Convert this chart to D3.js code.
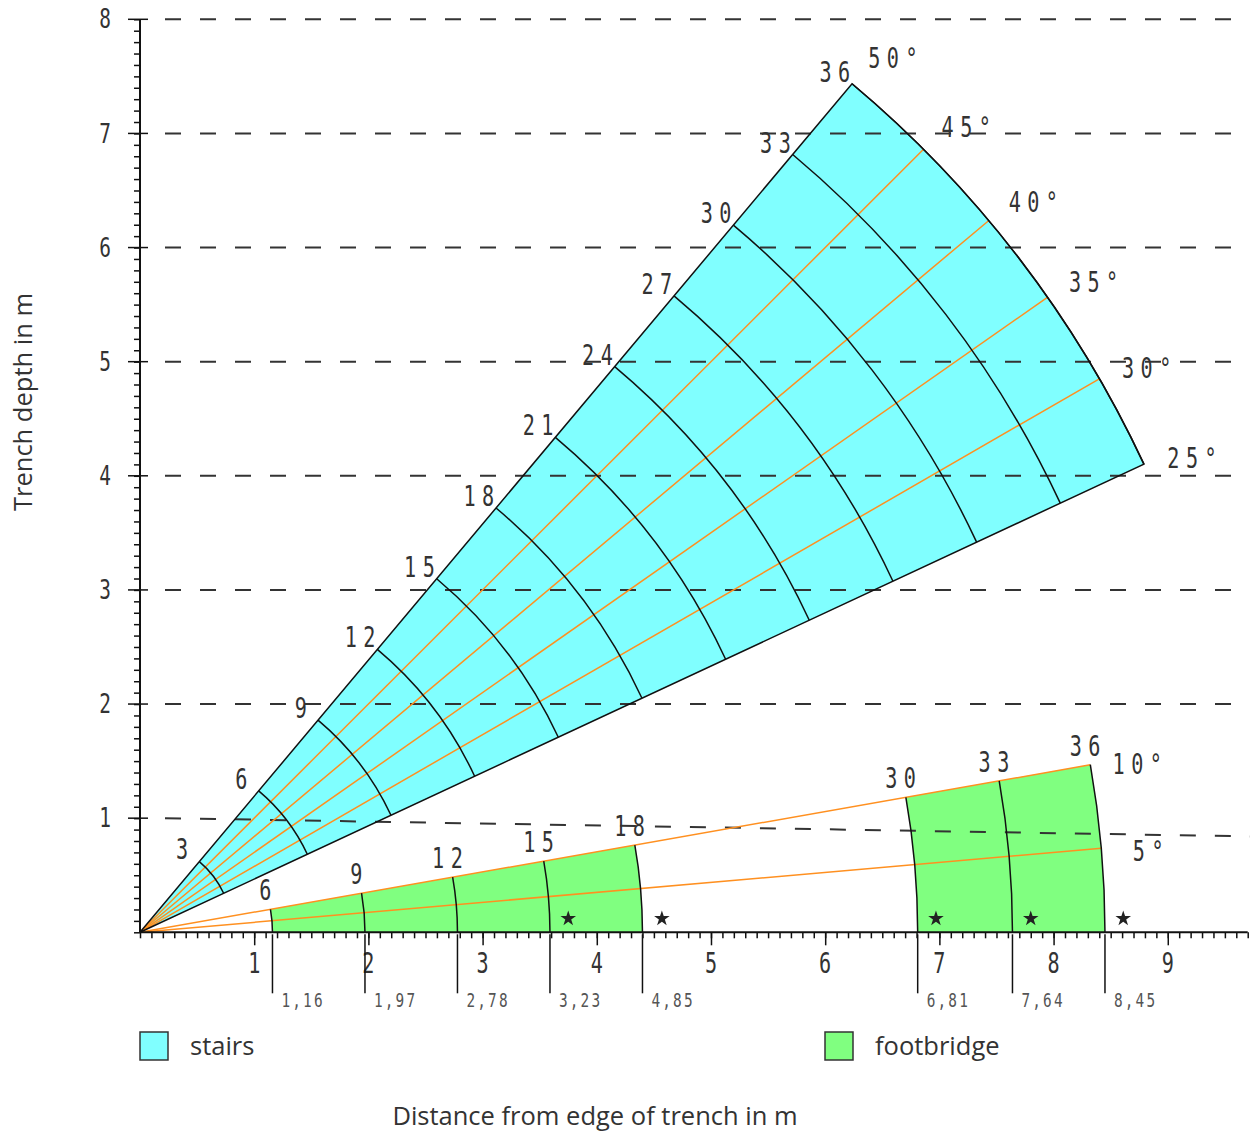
<!DOCTYPE html>
<html>
<head>
<meta charset="utf-8">
<script src="https://cdn.jsdelivr.net/npm/d3@7"></script>
<style>
  body { margin: 0; background: #fff; }
  .title { font-family: "Open Sans", sans-serif; font-size: 25.5px; fill: #333; }
</style>
</head>
<body>
<svg id="chart" width="1255" height="1133"></svg>
<script>
// stairs: fan of steps between 25 and 50 degrees
const stairSteps = [3, 6, 9, 12, 15, 18, 21, 24, 27, 30, 33, 36];
const stairMaxStep = 36;
const stairOuterRadius = 9.70;
const stairAngles = [25, 30, 35, 40, 45, 50];

// footbridge: fan between 0 and 10 degrees
const footSteps = [6, 9, 12, 15, 18, 30, 33, 36];
const footRadii = [1.16, 1.97, 2.78, 3.59, 4.40, 6.81, 7.64, 8.45];
const footLabels = ['1,16', '1,97', '2,78', '3,23', '4,85', '6,81', '7,64', '8,45'];
const footBlocks = [[1.16, 4.40], [6.81, 8.45]];
const footAngles = [5, 10];
const starRadii = [3.75, 4.57, 6.97, 7.80, 8.61];

const xTickLabels = [1, 2, 3, 4, 5, 6, 7, 8, 9];
const yTickLabels = [1, 2, 3, 4, 5, 6, 7, 8];
const gridStart = [1, 2, 3, 4, 5, 6, 7, 8];
const gridEnd = [0.84, 2, 3, 4, 5, 6, 7, 8];

const svg = d3.select('#chart');
const x = d3.scaleLinear().domain([0, 9.72]).range([140, 1250]);
const y = d3.scaleLinear().domain([0, 8]).range([932.3, 19.3]);
const px = r => x(r) - x(0);
const rad = d => d * Math.PI / 180;
const O = [x(0), y(0)];
function pt(r, deg) {
  return [x(r * Math.cos(rad(deg))), y(r * Math.sin(rad(deg)))];
}

// narrow technical lettering
function tech(g, tx, ty, s, size, opts) {
  opts = opts || {};
  g.append('text')
    .attr('transform', 'translate(' + tx + ',' + ty + ') scale(0.72,1)')
    .attr('text-anchor', opts.anchor || 'middle')
    .attr('dominant-baseline', 'central')
    .style('font-family', '"DejaVu Sans Mono", monospace')
    .style('font-size', size + 'px')
    .style('letter-spacing', (opts.spacing === undefined ? 9 : opts.spacing) + 'px')
    .style('fill', opts.fill || '#333')
    .text(s);
}

const arcGen = d3.arc();
const stepR = s => s * stairOuterRadius / stairMaxStep;

// fills
svg.append('path')
  .attr('transform', 'translate(' + O + ')')
  .attr('d', arcGen({ innerRadius: 0, outerRadius: px(stairOuterRadius),
    startAngle: rad(90 - 50), endAngle: rad(90 - 25) }))
  .attr('fill', '#80ffff').attr('stroke', 'none');

footBlocks.forEach(b => {
  svg.append('path')
    .attr('transform', 'translate(' + O + ')')
    .attr('d', arcGen({ innerRadius: px(b[0]), outerRadius: px(b[1]),
      startAngle: rad(80), endAngle: rad(90) }))
    .attr('fill', '#80ff80').attr('stroke', 'none');
});

// dashed grid
gridStart.forEach((v, i) => {
  svg.append('line')
    .attr('x1', x(0) + 25).attr('y1', y(v))
    .attr('x2', x(9.72)).attr('y2', y(gridEnd[i]))
    .attr('stroke', '#333').attr('stroke-width', 2)
    .attr('stroke-dasharray', '16,19');
});

// orange rays
stairAngles.filter(a => a > 25 && a < 50).forEach(a => {
  const p = pt(stairOuterRadius, a);
  svg.append('line').attr('x1', O[0]).attr('y1', O[1]).attr('x2', p[0]).attr('y2', p[1])
    .attr('stroke', '#ff9020').attr('stroke-width', 1.5);
});
footAngles.forEach(a => {
  const p = pt(footRadii[footRadii.length - 1], a);
  svg.append('line').attr('x1', O[0]).attr('y1', O[1]).attr('x2', p[0]).attr('y2', p[1])
    .attr('stroke', '#ff9020').attr('stroke-width', 1.5);
});

// step arcs
stairSteps.forEach(s => {
  const p = d3.path();
  p.arc(O[0], O[1], px(stepR(s)), rad(-50), rad(-25), false);
  svg.append('path').attr('d', p.toString())
    .attr('fill', 'none').attr('stroke', '#111').attr('stroke-width', 1.5);
});
footRadii.forEach(r => {
  const p = d3.path();
  p.arc(O[0], O[1], px(r), rad(-10), 0, false);
  svg.append('path').attr('d', p.toString())
    .attr('fill', 'none').attr('stroke', '#111').attr('stroke-width', 1.5);
});

// stairs outline
svg.append('path')
  .attr('transform', 'translate(' + O + ')')
  .attr('d', arcGen({ innerRadius: 0, outerRadius: px(stairOuterRadius),
    startAngle: rad(90 - 50), endAngle: rad(90 - 25) }))
  .attr('fill', 'none').attr('stroke', '#111').attr('stroke-width', 1.5);

// stars
starRadii.forEach(r => {
  svg.append('path')
    .attr('transform', 'translate(' + x(r) + ',' + y(0.12) + ')')
    .attr('d', d3.symbol(d3.symbolStar, 75)())
    .attr('fill', '#222');
});

// axes
const xMinor = d3.range(0, 98).map(i => i / 10);
const yMinor = d3.range(0, 81).map(i => i / 10);

svg.append('g').attr('transform', 'translate(0,' + y(0) + ')')
  .call(d3.axisBottom(x).tickValues(xMinor).tickSize(6).tickFormat(''))
  .call(g => g.select('.domain').remove())
  .call(g => g.selectAll('line').attr('stroke', '#111').attr('stroke-width', 1.5));
svg.append('g').attr('transform', 'translate(0,' + y(0) + ')')
  .call(d3.axisBottom(x).tickValues(xTickLabels).tickSize(13).tickFormat(''))
  .call(g => g.select('.domain').remove())
  .call(g => g.selectAll('line').attr('stroke', '#111').attr('stroke-width', 1.5));
svg.append('line').attr('x1', x(0)).attr('x2', x(9.7)).attr('y1', y(0)).attr('y2', y(0))
  .attr('stroke', '#111').attr('stroke-width', 2);

svg.append('g').attr('transform', 'translate(' + x(0) + ',0)')
  .call(d3.axisLeft(y).tickValues(yMinor).tickSize(6).tickFormat(''))
  .call(g => g.select('.domain').remove())
  .call(g => g.selectAll('line').attr('stroke', '#111').attr('stroke-width', 1.5));
yTickLabels.forEach(v => {
  svg.append('line').attr('x1', x(0) - 12).attr('x2', x(0) + 8)
    .attr('y1', y(v)).attr('y2', y(v)).attr('stroke', '#111').attr('stroke-width', 1.5);
});
svg.append('line').attr('x1', x(0)).attr('x2', x(0)).attr('y1', y(0)).attr('y2', y(8))
  .attr('stroke', '#111').attr('stroke-width', 2);

xTickLabels.forEach(v => tech(svg, x(v), 963, v, 28, { spacing: 0 }));
yTickLabels.forEach(v => tech(svg, 105, y(v), v, 27, { spacing: 0 }));

// footbridge reference lines on the x axis
footRadii.forEach((r, i) => {
  svg.append('line').attr('x1', x(r)).attr('x2', x(r))
    .attr('y1', y(0) + 2).attr('y2', y(0) + 61)
    .attr('stroke', '#111').attr('stroke-width', 1.5);
  tech(svg, x(r) + 9, 1000, footLabels[i], 20, { anchor: 'start', spacing: 3, fill: '#555' });
});

// step labels
stairSteps.forEach(s => {
  const p = pt(stepR(s), 50);
  tech(svg, p[0] - 14, p[1] - 12, s, 28);
});
footSteps.forEach((s, i) => {
  const p = pt(footRadii[i], 10);
  tech(svg, p[0] - 2, p[1] - 19, s, 28);
});

// angle labels
stairAngles.forEach(a => {
  const p = pt(stairOuterRadius + 0.4, a - 0.7);
  tech(svg, p[0] + 4, p[1], a + '°', 28);
});
footAngles.forEach(a => {
  const p = pt(footRadii[footRadii.length - 1] + 0.4, a - 0.4);
  tech(svg, p[0] + 4, p[1], a + '°', 28);
});

// legend
const legend = [
  { label: 'stairs', color: '#80ffff', x: 140 },
  { label: 'footbridge', color: '#80ff80', x: 825 }
];
legend.forEach(d => {
  svg.append('rect').attr('x', d.x).attr('y', 1032).attr('width', 28).attr('height', 28)
    .attr('fill', d.color).attr('stroke', '#333').attr('stroke-width', 1.5);
  svg.append('text').attr('class', 'title').attr('x', d.x + 50).attr('y', 1045)
    .attr('dominant-baseline', 'central').text(d.label);
});

// axis titles
svg.append('text').attr('class', 'title').attr('x', 595).attr('y', 1115)
  .attr('text-anchor', 'middle').attr('dominant-baseline', 'central')
  .text('Distance from edge of trench in m');
svg.append('text').attr('class', 'title')
  .attr('transform', 'translate(22,402) rotate(-90)')
  .attr('text-anchor', 'middle').attr('dominant-baseline', 'central')
  .text('Trench depth in m');
</script>
</body>
</html>
